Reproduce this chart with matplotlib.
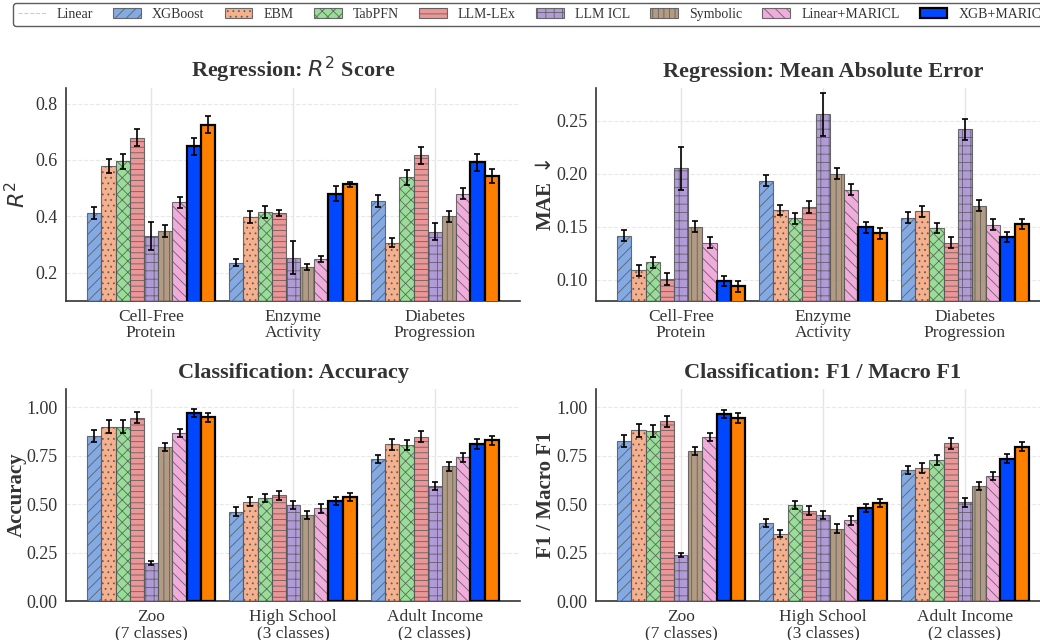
import matplotlib

matplotlib.use("Agg")
import matplotlib.pyplot as plt
import numpy as np
from matplotlib.lines import Line2D
from matplotlib.patches import Patch

plt.rcParams["font.family"] = ["Liberation Serif", "DejaVu Serif"]
plt.rcParams["hatch.linewidth"] = 0.6
plt.rcParams["text.color"] = "#333333"
plt.rcParams["axes.labelcolor"] = "#333333"
plt.rcParams["xtick.color"] = "#333333"
plt.rcParams["ytick.color"] = "#333333"

METHODS = ["XGBoost", "EBM", "TabPFN", "LLM-LEx", "LLM ICL", "Symbolic",
           "Linear+MARICL", "XGB+MARICL", "LLM-LEx+MARICL"]
COLORS = ["#6f9be0", "#f4a27a", "#86d986", "#e98585", "#a58bd0", "#a58a6e",
          "#ee9fd6", "#0047ff", "#ff7f00"]
HATCHES = ["///", "...", "xxx", "---", "++", "|||", "\\\\\\", "", ""]
HIGHLIGHT = [False] * 7 + [True, True]

REG_DATASETS = ["Cell-Free\nProtein", "Enzyme\nActivity", "Diabetes\nProgression"]
CLS_DATASETS = ["Zoo\n(7 classes)", "High School\n(3 classes)", "Adult Income\n(2 classes)"]

# rows = methods, cols = datasets
r2_mean = [
    [0.411, 0.236, 0.453],
    [0.578, 0.399, 0.307],
    [0.595, 0.415, 0.538],
    [0.678, 0.412, 0.616],
    [0.330, 0.254, 0.345],
    [0.349, 0.220, 0.400],
    [0.450, 0.249, 0.480],
    [0.648, 0.481, 0.591],
    [0.724, 0.513, 0.544],
]
r2_err = [
    [0.021, 0.012, 0.021],
    [0.025, 0.021, 0.016],
    [0.027, 0.020, 0.026],
    [0.030, 0.010, 0.031],
    [0.050, 0.060, 0.030],
    [0.021, 0.011, 0.020],
    [0.020, 0.011, 0.019],
    [0.031, 0.026, 0.030],
    [0.030, 0.010, 0.024],
]

mae_mean = [
    [0.1417, 0.1935, 0.1587],
    [0.1088, 0.1657, 0.1647],
    [0.1167, 0.1580, 0.1490],
    [0.1006, 0.1688, 0.1350],
    [0.2051, 0.2560, 0.2420],
    [0.1500, 0.2000, 0.1700],
    [0.1350, 0.1850, 0.1520],
    [0.0990, 0.1496, 0.1404],
    [0.0937, 0.1439, 0.1527],
]
mae_err = [
    [0.0052, 0.0050, 0.0050],
    [0.0055, 0.0050, 0.0050],
    [0.0052, 0.0050, 0.0050],
    [0.0058, 0.0054, 0.0050],
    [0.0202, 0.0202, 0.0101],
    [0.0052, 0.0052, 0.0050],
    [0.0054, 0.0050, 0.0050],
    [0.0050, 0.0050, 0.0050],
    [0.0050, 0.0050, 0.0050],
]

acc_mean = [
    [0.853, 0.462, 0.733],
    [0.900, 0.512, 0.809],
    [0.900, 0.531, 0.807],
    [0.947, 0.545, 0.848],
    [0.198, 0.495, 0.595],
    [0.795, 0.445, 0.695],
    [0.867, 0.478, 0.743],
    [0.971, 0.517, 0.809],
    [0.948, 0.536, 0.829],
]
acc_err = [
    [0.031, 0.022, 0.021],
    [0.033, 0.023, 0.027],
    [0.033, 0.022, 0.026],
    [0.028, 0.022, 0.029],
    [0.010, 0.022, 0.022],
    [0.022, 0.022, 0.021],
    [0.021, 0.022, 0.023],
    [0.019, 0.022, 0.026],
    [0.024, 0.021, 0.024],
]

f1_mean = [
    [0.828, 0.403, 0.676],
    [0.881, 0.348, 0.686],
    [0.878, 0.495, 0.729],
    [0.929, 0.467, 0.814],
    [0.236, 0.445, 0.509],
    [0.776, 0.374, 0.595],
    [0.847, 0.416, 0.645],
    [0.966, 0.481, 0.736],
    [0.945, 0.507, 0.797],
]
f1_err = [
    [0.031, 0.022, 0.021],
    [0.033, 0.020, 0.026],
    [0.031, 0.021, 0.026],
    [0.029, 0.022, 0.030],
    [0.010, 0.021, 0.022],
    [0.022, 0.022, 0.021],
    [0.021, 0.022, 0.021],
    [0.019, 0.021, 0.024],
    [0.024, 0.021, 0.022],
]


def draw_panel(ax, means, errs, datasets, title, ylabel, ylim, yticks, fmt, ylabel_kw):
    x = np.arange(len(datasets))
    width = 0.1
    n = len(METHODS)
    for i in range(n):
        offs = (i - (n - 1) / 2) * width
        if HIGHLIGHT[i]:
            ax.bar(x + offs, means[i], width, color=COLORS[i], edgecolor="black",
                   linewidth=1.6, zorder=3)
        else:
            ax.bar(x + offs, means[i], width, color=COLORS[i], edgecolor="#555555",
                   linewidth=0.8, hatch=HATCHES[i], alpha=0.85, zorder=3)
        ax.errorbar(x + offs, means[i], yerr=errs[i], fmt="none", ecolor="black",
                    elinewidth=1.2, capsize=2.5, capthick=1.2, zorder=4)
    ax.set_xlim(-0.6, 2.6)
    ax.set_ylim(*ylim)
    ax.set_yticks(yticks)
    ax.yaxis.set_major_formatter(plt.FormatStrFormatter(fmt))
    ax.set_xticks(x)
    ax.set_xticklabels(datasets, fontsize=12.5, linespacing=1.0)
    ax.tick_params(axis="y", labelsize=13, length=0, pad=6)
    ax.tick_params(axis="x", length=0, pad=6)
    ax.set_title(title, fontsize=16, fontweight="bold", pad=8)
    ax.set_ylabel(ylabel, **ylabel_kw)
    ax.grid(axis="x", color="#e5e5e5", linewidth=1.0, zorder=0)
    ax.grid(axis="y", color="#e8e8e8", linestyle="--", linewidth=0.8, zorder=0)
    ax.set_axisbelow(True)
    for s in ["top", "right"]:
        ax.spines[s].set_visible(False)
    for s in ["left", "bottom"]:
        ax.spines[s].set_color("#333333")
        ax.spines[s].set_linewidth(1.2)


fig = plt.figure(figsize=(10.4, 6.4), dpi=100)
W, H = 1040.0, 640.0
ax_w = 454 / W
ax1 = fig.add_axes([66 / W, 1 - 301 / H, ax_w, 213 / H])
ax2 = fig.add_axes([596 / W, 1 - 301 / H, ax_w, 213 / H])
ax3 = fig.add_axes([66 / W, 1 - 601 / H, ax_w, 212 / H])
ax4 = fig.add_axes([596 / W, 1 - 601 / H, ax_w, 212 / H])

draw_panel(ax1, r2_mean, r2_err, REG_DATASETS, "Regression: $R^2$ Score", "$R^2$",
           (0.1, 0.855), [0.2, 0.4, 0.6, 0.8], "%.1f", dict(fontsize=16, labelpad=4))
draw_panel(ax2, mae_mean, mae_err, REG_DATASETS, "Regression: Mean Absolute Error",
           "MAE $\\downarrow$", (0.08, 0.281), [0.10, 0.15, 0.20, 0.25], "%.2f",
           dict(fontsize=15, fontweight="bold", labelpad=0))
draw_panel(ax3, acc_mean, acc_err, CLS_DATASETS, "Classification: Accuracy", "Accuracy",
           (0.0, 1.095), [0.0, 0.25, 0.5, 0.75, 1.0], "%.2f",
           dict(fontsize=15, fontweight="bold", labelpad=0))
draw_panel(ax4, f1_mean, f1_err, CLS_DATASETS, "Classification: F1 / Macro F1",
           "F1 / Macro F1", (0.0, 1.095), [0.0, 0.25, 0.5, 0.75, 1.0], "%.2f",
           dict(fontsize=15, fontweight="bold", labelpad=0))

handles = [Line2D([0], [0], color="#cccccc", linestyle="--", linewidth=0.8)]
labels = ["Linear"]
for i, m in enumerate(METHODS):
    if HIGHLIGHT[i]:
        handles.append(Patch(facecolor=COLORS[i], edgecolor="black", linewidth=1.6))
    else:
        handles.append(Patch(facecolor=COLORS[i], edgecolor="#555555", linewidth=0.8,
                             hatch=HATCHES[i], alpha=0.85))
    labels.append(m)
leg = fig.legend(handles, labels, loc="upper left", bbox_to_anchor=(13 / W, 1 - 3 / H),
                 ncol=10, fontsize=10, frameon=True, handlelength=2.0,
                 columnspacing=1.45, handletextpad=0.8, borderpad=0.35,
                 borderaxespad=0, fancybox=True)
leg.get_frame().set_edgecolor("#333333")
leg.get_frame().set_linewidth(1.0)

fig.savefig("out.png", dpi=100)
